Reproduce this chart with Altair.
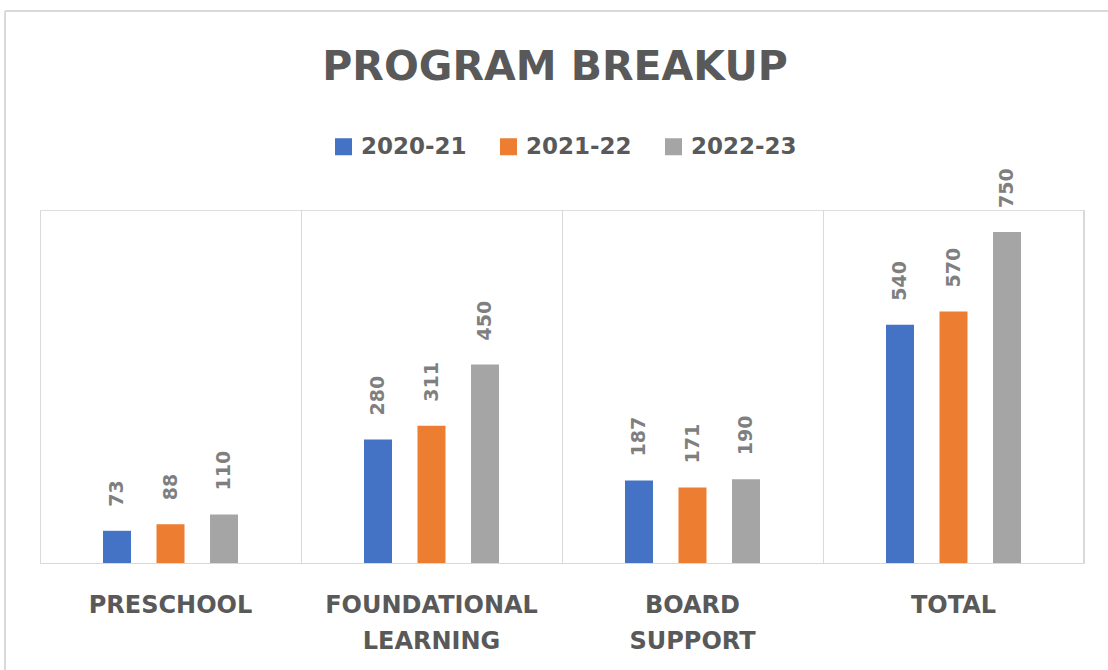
import altair as alt
import pandas as pd

categories = ["PRESCHOOL", "FOUNDATIONAL LEARNING", "BOARD SUPPORT", "TOTAL"]
years = ["2020-21", "2021-22", "2022-23"]
values_2020 = [73, 280, 187, 540]
values_2021 = [88, 311, 171, 570]
values_2022 = [110, 450, 190, 750]
colors = ["#4472C4", "#ED7D31", "#A5A5A5"]

rows = []
for yr, vals in zip(years, [values_2020, values_2021, values_2022]):
    for c, v in zip(categories, vals):
        rows.append({"category": c, "year": yr, "value": v})
df = pd.DataFrame(rows)

W, H = 1044, 353
FONT = "DejaVu Sans"

base = alt.Chart(df).encode(
    x=alt.X("category:N", sort=categories,
            scale=alt.Scale(paddingInner=0, paddingOuter=0),
            axis=alt.Axis(title=None, labelAngle=0, bandPosition=0, grid=True,
                          gridColor="#D9D9D9", gridWidth=1, ticks=False,
                          domain=True, domainColor="#D9D9D9", domainWidth=1,
                          labelExpr="split(datum.label, ' ')", labelLimit=400,
                          labelFont=FONT, labelFontSize=24, labelFontWeight="bold",
                          labelColor="#595959", labelPadding=30, labelBaseline="top",
                          labelLineHeight=36, labelAlign="center")),
    xOffset=alt.XOffset("year:N", sort=years,
                        scale=alt.Scale(range=[63, 198], paddingInner=0.477, paddingOuter=0)),
    y=alt.Y("value:Q", scale=alt.Scale(domain=[0, 800]), axis=None),
)

bars = base.mark_bar().encode(
    color=alt.Color("year:N", sort=years,
                    scale=alt.Scale(domain=years, range=colors),
                    legend=alt.Legend(title=None, orient="none", direction="horizontal",
                                      legendX=292, legendY=-75, padding=0,
                                      symbolType="square", symbolSize=289,
                                      symbolStrokeWidth=0, symbolOpacity=1,
                                      labelFont=FONT, labelFontSize=23,
                                      labelFontWeight="bold", labelColor="#595959",
                                      labelOffset=6, columnPadding=30)),
)

labels = base.mark_text(angle=270, align="left", baseline="middle", dx=24,
                        font=FONT, fontSize=19, fontWeight="bold",
                        color="#7F7F7F").encode(text="value:Q")

right_edge = alt.Chart(df).mark_rule(color="#D9D9D9", strokeWidth=1).encode(
    x=alt.value(W), y=alt.value(0), y2=alt.value(H))

frame_top = alt.Chart(df).mark_rule(color="#D9D9D9", strokeWidth=2).encode(
    x=alt.value(-35), x2=alt.value(W + 24), y=alt.value(-199))
frame_left = alt.Chart(df).mark_rule(color="#D9D9D9", strokeWidth=2).encode(
    x=alt.value(-35), y=alt.value(-199), y2=alt.value(H + 107))

chart = alt.layer(frame_top, frame_left, right_edge, bars, labels).properties(
    width=W, height=H,
    title=alt.Title("PROGRAM BREAKUP", font=FONT, fontSize=41, fontWeight="bold",
                    color="#595959", anchor="middle", frame="group", offset=-79, dx=-7),
    autosize=alt.AutoSizeParams(type="none"),
    padding={"left": 40, "top": 210, "right": 24, "bottom": 107},
).configure_view(stroke="transparent", strokeWidth=0).configure(background="white")

chart.save("out.html", embed_options={"renderer": "svg", "actions": False})
